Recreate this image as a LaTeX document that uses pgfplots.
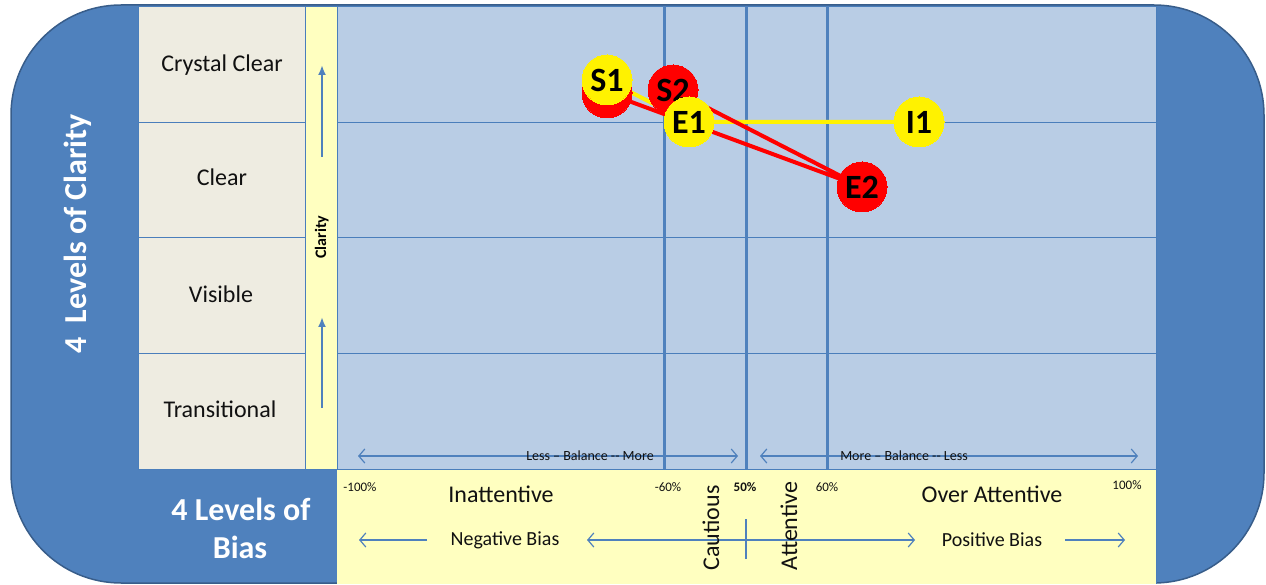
\documentclass[border=0pt]{standalone}
\usepackage{fontspec}
\setmainfont{Carlito}
\usepackage{pgfplots}
\pgfplotsset{compat=1.18}
\usetikzlibrary{arrows.meta}
\definecolor{obl}{HTML}{4F81BD}
\definecolor{obld}{HTML}{385D8A}
\definecolor{plotbg}{HTML}{B9CDE5}
\definecolor{beige}{HTML}{EEECE1}
\definecolor{lyel}{HTML}{FFFFC0}
\definecolor{gridl}{HTML}{4A7EBB}
\definecolor{txt}{HTML}{111111}
\newcommand{\fs}[1]{\fontsize{#1}{#1}\selectfont}
\begin{document}
\begin{tikzpicture}[x=1pt,y=1pt,
  barb/.style={obl,line width=1.2pt},
  tip/.tip={Straight Barb[length=6pt,width=14pt,line width=1.2pt]}]
\path (0,0) rectangle (1266,584);
% outer shape
\fill[obl,draw=obld,line width=1.5pt,rounded corners=110pt] (11,1) rectangle (1264,579);
% panels
\fill[beige] (138,115) rectangle (305,578);
\fill[lyel] (305,115) rectangle (337,578);
\fill[plotbg] (337,115) rectangle (1156,578);
\fill[lyel] (337,0.5) rectangle (1156,115);
% grid lines
\foreach \yy in {231,347,462}{
  \draw[gridl,line width=0.8pt] (138,\yy)--(305,\yy);
  \draw[gridl,line width=0.8pt] (337,\yy)--(1156,\yy);
}
\draw[gridl,line width=0.8pt] (138,115) rectangle (305,578);
\draw[gridl,line width=0.8pt] (305,115) rectangle (337,578);
\draw[gridl,line width=0.8pt] (337,115) rectangle (1156,578);
\draw[gridl,line width=0.8pt] (1156,0.5)--(1156,115);
\foreach \xx in {664,746,827}{
  \draw[obl,line width=3pt] (\xx,115)--(\xx,578);
}
\draw[obl,line width=2.5pt] (746,25)--(746,65);
% balance arrows
\draw[barb,tip-tip] (358,128)--(738,128);
\draw[barb,tip-tip] (760,128)--(1138,128);
\node[txt,inner sep=0] at (590,128) {\fs{14}Less – Balance -{}- More};
\node[txt,inner sep=0] at (904,128) {\fs{14}More – Balance -{}- Less};
% bias arrows
\draw[barb,-tip] (427,44)--(359,44);
\draw[barb,tip-tip] (587,44)--(915,44);
\draw[barb,-tip] (1065,44)--(1125,44);
\node[txt] at (505,44) {\fs{20}Negative Bias};
\node[txt] at (992,44) {\fs{20}Positive Bias};
\node[txt] at (501,90) {\fs{24}Inattentive};
\node[txt] at (992,90) {\fs{24}Over Attentive};
\node[txt] at (360,97) {\fs{13}-100\%};
\node[txt] at (668,97) {\fs{13}-60\%};
\node[txt] at (745,97) {\fs{13}\bfseries 50\%};
\node[txt] at (827,97) {\fs{13}60\%};
\node[txt] at (1127,99) {\fs{13}100\%};
\node[txt,rotate=90,inner sep=0] at (711,56) {\fs{24}Cautious};
\node[txt,rotate=90,inner sep=0] at (789,58) {\fs{24}Attentive};
% left labels
\node[txt,anchor=base] at (222,512) {\fs{24}Crystal Clear};
\node[txt,anchor=base] at (222,398) {\fs{24}Clear};
\node[txt,anchor=base] at (221,281) {\fs{24}Visible};
\node[txt,anchor=base] at (220,166) {\fs{24}Transitional};
\node[black,rotate=90,anchor=base] at (326,347) {\fs{16}\bfseries Clarity};
\draw[obl,line width=2pt,-{Latex[length=10pt,width=8pt]}] (322,427)--(322,519);
\draw[obl,line width=2pt,-{Latex[length=10pt,width=8pt]}] (322,176)--(322,267);
\node[white,rotate=90,anchor=base] at (86,350) {\fs{32}\bfseries 4\ \ Levels of Clarity};
\node[white,anchor=base] at (241,64) {\fs{32}\bfseries 4 Levels of};
\node[white,anchor=base] at (240,26) {\fs{32}\bfseries Bias};
% data
\begin{axis}[at={(0,0)},anchor=south west,width=1266pt,height=584pt,scale only axis,
  xmin=0,xmax=1266,ymin=0,ymax=584,hide axis,clip=false,
  nodes near coords style={anchor=center,font=\fs{34}\bfseries,text=black,inner sep=0}]
\addplot[yellow,line width=4pt,no marks] coordinates {(607,504) (689,462) (919,462)};
\addplot[red,line width=4pt,no marks] coordinates {(607,491) (862,397) (673,494)};
\addplot[only marks,mark=*,mark size=25pt,mark options={fill=red,draw=red,line width=0pt}] coordinates {(607,491)};
\addplot[only marks,mark=*,mark size=25pt,mark options={fill=red,draw=red,line width=0pt},
  nodes near coords,point meta=explicit symbolic] table[meta=lab] {
x y lab
673 494 S2
862 397 E2
};
\addplot[only marks,mark=*,mark size=25pt,mark options={fill=yellow,draw=yellow,line width=0pt},
  nodes near coords,point meta=explicit symbolic] table[meta=lab] {
x y lab
607 504 S1
689 462 E1
919 462 I1
};
\end{axis}
\end{tikzpicture}
\end{document}
